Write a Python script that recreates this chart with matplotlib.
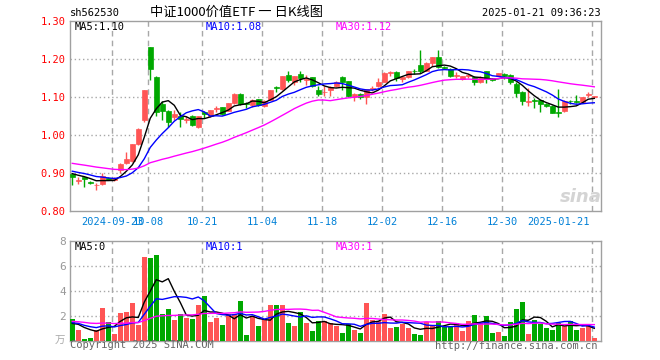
import matplotlib
matplotlib.use('Agg')
import matplotlib.pyplot as plt
import matplotlib.transforms as mtrans
import numpy as np
import pandas as pd

# 标题与文字
code = 'sh562530'
title = '中证1000价值ETF 一 日K线图'
stamp = '2025-01-21 09:36:23'
ma_labels = ['MA5:1.10', 'MA10:1.08', 'MA30:1.12']
vol_ma_labels = ['MA5:0', 'MA10:1', 'MA30:1']

# 日期刻度 (K线序号)
tick_idx = [7, 13, 22, 32, 42, 52, 62, 72, 87]
tick_labels = ['2024-09-23', '10-08', '10-21', '11-04', '11-18',
               '12-02', '12-16', '12-30', '2025-01-21']

# 日K数据
open_ = [0.897, 0.881, 0.890, 0.877, 0.868, 0.872, 0.888, 0.883, 0.909, 0.928,
         0.933, 0.978, 1.040, 1.232, 1.154, 1.082, 1.065, 1.049, 1.051, 1.041,
         1.051, 1.021, 1.062, 1.051, 1.070, 1.074, 1.065, 1.086, 1.109, 1.085,
         1.080, 1.095, 1.077, 1.093, 1.127, 1.121, 1.160, 1.139, 1.161, 1.146,
         1.153, 1.119, 1.113, 1.119, 1.130, 1.153, 1.142, 1.100, 1.109, 1.100,
         1.123, 1.130, 1.141, 1.164, 1.167, 1.148, 1.154, 1.169, 1.185, 1.170,
         1.191, 1.205, 1.180, 1.174, 1.156, 1.148, 1.157, 1.154, 1.141, 1.168,
         1.148, 1.156, 1.162, 1.159, 1.135, 1.115, 1.088, 1.093, 1.093, 1.083,
         1.078, 1.061, 1.063, 1.091, 1.090, 1.088, 1.106, 1.101]
high = [0.899, 0.890, 0.891, 0.880, 0.875, 0.900, 0.889, 0.889, 0.926, 0.956,
        0.978, 1.018, 1.118, 1.232, 1.156, 1.091, 1.066, 1.066, 1.062, 1.050,
        1.053, 1.051, 1.064, 1.067, 1.077, 1.075, 1.085, 1.110, 1.110, 1.088,
        1.096, 1.096, 1.093, 1.120, 1.130, 1.157, 1.168, 1.157, 1.169, 1.159,
        1.154, 1.130, 1.130, 1.130, 1.143, 1.155, 1.143, 1.110, 1.110, 1.122,
        1.130, 1.150, 1.166, 1.168, 1.168, 1.155, 1.170, 1.175, 1.225, 1.192,
        1.206, 1.225, 1.182, 1.176, 1.167, 1.157, 1.162, 1.156, 1.155, 1.170,
        1.151, 1.165, 1.163, 1.161, 1.141, 1.116, 1.125, 1.097, 1.094, 1.085,
        1.081, 1.122, 1.092, 1.093, 1.105, 1.101, 1.113, 1.104]
low = [0.870, 0.873, 0.865, 0.872, 0.856, 0.869, 0.882, 0.881, 0.900, 0.925,
       0.930, 0.975, 1.035, 1.145, 1.052, 1.040, 1.023, 1.040, 1.023, 1.033,
       1.025, 1.018, 1.046, 1.049, 1.062, 1.054, 1.063, 1.082, 1.081, 1.071,
       1.074, 1.078, 1.074, 1.092, 1.113, 1.119, 1.141, 1.132, 1.141, 1.132,
       1.128, 1.104, 1.104, 1.103, 1.127, 1.119, 1.102, 1.089, 1.095, 1.082,
       1.116, 1.128, 1.139, 1.155, 1.142, 1.139, 1.150, 1.161, 1.165, 1.168,
       1.182, 1.177, 1.174, 1.154, 1.150, 1.146, 1.150, 1.133, 1.138, 1.138,
       1.143, 1.155, 1.148, 1.135, 1.100, 1.080, 1.076, 1.072, 1.060, 1.075,
       1.059, 1.047, 1.060, 1.083, 1.085, 1.086, 1.100, 1.099]
close = [0.891, 0.883, 0.884, 0.875, 0.869, 0.893, 0.883, 0.887, 0.925, 0.938,
         0.977, 1.017, 1.118, 1.175, 1.062, 1.065, 1.036, 1.057, 1.043, 1.043,
         1.027, 1.051, 1.055, 1.066, 1.071, 1.056, 1.084, 1.109, 1.082, 1.083,
         1.093, 1.080, 1.091, 1.119, 1.125, 1.156, 1.146, 1.156, 1.150, 1.147,
         1.130, 1.109, 1.114, 1.128, 1.141, 1.140, 1.103, 1.109, 1.100, 1.121,
         1.124, 1.141, 1.165, 1.165, 1.150, 1.153, 1.169, 1.168, 1.169, 1.191,
         1.205, 1.181, 1.178, 1.156, 1.157, 1.156, 1.159, 1.139, 1.150, 1.147,
         1.145, 1.163, 1.155, 1.139, 1.112, 1.089, 1.090, 1.091, 1.083, 1.078,
         1.060, 1.059, 1.091, 1.089, 1.088, 1.100, 1.107, 1.102]
# 成交量 (万手)
volume = [1.71, 0.85, 0.13, 0.21, 0.88, 2.64, 1.47, 0.53, 2.21, 2.29,
          3.01, 1.25, 6.69, 6.61, 6.85, 2.13, 2.53, 1.65, 2.13, 1.81,
          1.73, 2.85, 3.57, 1.52, 1.81, 1.25, 2.10, 2.10, 3.15, 0.48,
          2.00, 1.20, 1.65, 2.88, 2.88, 2.88, 1.44, 1.20, 2.32, 1.44,
          0.75, 1.60, 1.60, 1.39, 1.20, 0.64, 1.33, 0.88, 0.64, 2.99,
          1.65, 1.60, 2.16, 1.04, 1.12, 1.36, 1.04, 0.56, 0.48, 1.52,
          1.28, 1.60, 1.12, 1.12, 1.44, 0.80, 1.60, 2.08, 1.44, 2.00,
          0.64, 0.72, 0.40, 1.52, 2.56, 3.12, 0.56, 1.68, 1.36, 1.04,
          0.88, 1.44, 1.20, 1.60, 0.88, 1.04, 1.20, 0.24]

# 图中可见区间之前的收盘价和成交量 (估计, 用于均线起点)
pre_close = [0.955, 0.952, 0.950, 0.948, 0.952, 0.946, 0.944, 0.945,
             0.940, 0.938, 0.935, 0.936, 0.932, 0.930, 0.928, 0.925,
             0.922, 0.920, 0.918, 0.915,
             0.916, 0.912, 0.913, 0.910, 0.908, 0.905, 0.902, 0.900, 0.898]
pre_vol = [1.8, 1.6, 2.1, 1.5, 1.9, 1.4, 1.7, 1.6, 2.0, 1.3, 1.5, 1.8, 1.4, 1.6,
           1.2, 1.7, 1.5, 1.3, 1.6, 1.5, 1.4, 1.7, 1.3, 1.6, 1.5, 1.2, 1.4, 1.1, 1.5]

red = '#ff5555'
green = '#00a800'
grid_c = '#a8a8a8'
mono = 'DejaVu Sans Mono'
cjk = ['Noto Sans CJK SC', 'DejaVu Sans']

W, H = 660, 360
fig = plt.figure(figsize=(W / 100, H / 100), dpi=100)
ax = fig.add_axes([70 / W, 1 - 211.3 / H, 531 / W, 190 / H])
axv = fig.add_axes([70 / W, 1 - 340.7 / H, 531 / W, 100 / H])

x = np.arange(len(close))
o = np.array(open_)
c = np.array(close)
col = np.where(c >= o, red, green)

# 均线
n = len(pre_close)
cs = pd.Series(pre_close + close)
vs = pd.Series(pre_vol + volume)
ma_cols = ['black', '#0000ff', '#ff00ff']
for win, mc in zip([5, 10, 30], ma_cols):
    ax.plot(x, cs.rolling(win).mean().values[n:], color=mc, lw=1, zorder=4)
    axv.plot(x, vs.rolling(win).mean().values[n:], color=mc, lw=1, zorder=4)

# K线
ax.vlines(x, low, high, colors=col, lw=1, zorder=3)
body_h = np.maximum(np.abs(c - o), 0.0015)
ax.bar(x, body_h, 0.8, bottom=np.minimum(o, c), color=col, edgecolor=col,
       lw=0.5, zorder=3)

# 成交量柱
axv.bar(x, volume, 0.8, color=col, lw=0, zorder=3)

for a in (ax, axv):
    a.set_xlim(-0.38, 88.12)
    a.set_xticks([])
    for s in a.spines.values():
        s.set_color('#a0a0a0')
        s.set_linewidth(1)
    for t in tick_idx:
        a.axvline(t - 0.33, color=grid_c, lw=1, dashes=(4, 3), zorder=1)
    a.tick_params(axis='y', length=0, pad=3)

ax.set_ylim(0.80, 1.30)
ax.set_yticks([0.8, 0.9, 1.0, 1.1, 1.2, 1.3])
ax.set_yticklabels(['%.2f' % v for v in [0.8, 0.9, 1.0, 1.1, 1.2, 1.3]],
                   color='red', family=mono, fontsize=7.5)
for v in [0.9, 1.0, 1.1, 1.2]:
    ax.axhline(v, color=grid_c, lw=1, dashes=(1, 2), zorder=1)

axv.set_ylim(0, 8)
axv.set_yticks([2, 4, 6, 8])
axv.set_yticklabels(['2', '4', '6', '8'], color='#999999', family=mono, fontsize=8)
for v in [2, 4, 6]:
    axv.axhline(v, color=grid_c, lw=1, dashes=(1, 2), zorder=1)
axv.text(-0.01, 0, '万', transform=axv.transAxes, ha='right', va='center',
         color='#aaaaaa', fontsize=7.5, family=cjk)

# 日期标签
tr = mtrans.blended_transform_factory(ax.transData, ax.transAxes)
for t, lab in zip(tick_idx, tick_labels):
    if lab == tick_labels[-1]:
        ax.text(t - 0.7, -0.055, lab, transform=tr, ha='right', va='center',
                color='#0080d7', family=mono, fontsize=7.5)
    else:
        ax.text(t - 0.33, -0.055, lab, transform=tr, ha='center', va='center',
                color='#0080d7', family=mono, fontsize=7.5)

# 顶部文字
fig.text(70 / W, 1 - 12.7 / H, code, ha='left', va='center', family=mono, fontsize=7.5)
fig.text(237 / W, 1 - 12.7 / H, title, ha='center', va='center', family=cjk, fontsize=9.5)
fig.text(601 / W, 1 - 12.7 / H, stamp, ha='right', va='center', family=mono, fontsize=7.5)

for xp, lab, mc in zip([75, 206, 336], ma_labels, ma_cols):
    fig.text(xp / W, 1 - 26.5 / H, lab, ha='left', va='center', color=mc,
             family=mono, fontsize=7.5)
for xp, lab, mc in zip([75, 206, 336], vol_ma_labels, ma_cols):
    fig.text(xp / W, 1 - 246.7 / H, lab, ha='left', va='center', color=mc,
             family=mono, fontsize=7.5)

fig.text(70 / W, 1 - 345.5 / H, 'Copyright 2025 SINA.COM', ha='left', va='center',
         color='#666666', family=mono, fontsize=7.5)
fig.text(597 / W, 1 - 346 / H, 'http://finance.sina.com.cn', ha='right', va='center',
         color='#666666', family=mono, fontsize=7.5)

# 水印
fig.text(581 / W, 1 - 197 / H, 'sina', ha='center', va='center', color='#d4d4d4',
         fontsize=13, fontweight='bold', style='italic', zorder=0)

fig.savefig('out.png', dpi=100)
